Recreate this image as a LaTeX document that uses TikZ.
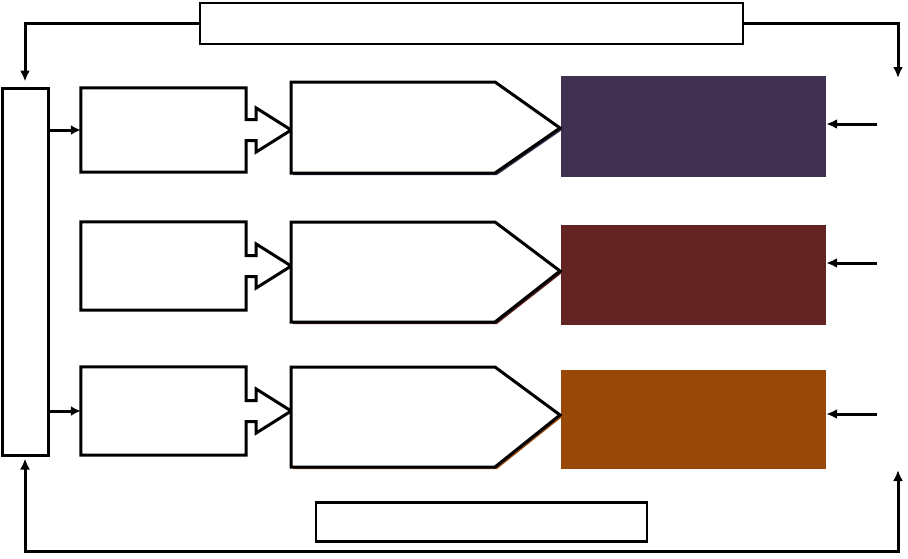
\documentclass[tikz,border=0pt]{standalone}
\usepackage{tikz}
\usetikzlibrary{shapes,arrows.meta,calc}

\definecolor{planpurple}{HTML}{403151}
\definecolor{planred}{HTML}{632523}
\definecolor{planbrown}{HTML}{984807}

\begin{document}
\begin{tikzpicture}[x=1pt,y=-1pt,
    thinbox/.style={draw, line width=2pt, inner sep=0pt},
    thickbox/.style={draw, line width=3pt, inner sep=0pt},
    openbox/.style={inner sep=0pt, minimum width=165pt},
    colorbox/.style={fill=#1, inner sep=0pt, minimum width=265pt},
    outline/.style={line width=3pt, line join=miter},
    fb/.style={line width=3pt, -{Latex[length=11pt,width=10pt]}},
    link/.style={line width=3pt, -{Latex[length=10pt,width=10pt]}}]
    \useasboundingbox (0,0) rectangle (908,558);

    % Draw the boxes
    \node [thinbox, minimum width=543pt, minimum height=41pt] (ctrl) at (471.5,23.5) {};
    \node [thickbox, minimum width=46pt, minimum height=367pt] (lbox) at (25,271.5) {};
    \node [thinbox, line width=2.5pt, minimum width=331pt, minimum height=39pt] (base) at (481.5,522) {};
    \node [openbox, minimum height=84pt] (s1) at (163.5,130) {};
    \node [openbox, minimum height=88pt] (s2) at (163.5,266) {};
    \node [openbox, minimum height=88pt] (s3) at (163.5,411) {};
    \node [colorbox=planpurple, minimum height=101pt] (c1) at (693.5,126.5) {};
    \node [colorbox=planred, minimum height=100pt] (c2) at (693.5,275) {};
    \node [colorbox=planbrown, minimum height=99pt] (c3) at (693.5,419.5) {};

    % Draw the boxes with arrow heads
    \draw [outline] ($(s1.east)+(0,-10.5)$) |- (s1.north west) |- (s1.south east)
          -- ($(s1.east)+(0,10.5)$) -- ++(10,0) -- ++(0,11.5) -- ($(s1.east)+(45,0)$)
          -- ($(s1.east)+(10,-22)$) -- ++(0,11.5) -- cycle;
    \draw [outline] ($(s2.east)+(0,-10.5)$) |- (s2.north west) |- (s2.south east)
          -- ($(s2.east)+(0,10.5)$) -- ++(10,0) -- ++(0,11.5) -- ($(s2.east)+(45,0)$)
          -- ($(s2.east)+(10,-22)$) -- ++(0,11.5) -- cycle;
    \draw [outline] ($(s3.east)+(0,-10.5)$) |- (s3.north west) |- (s3.south east)
          -- ($(s3.east)+(0,10.5)$) -- ++(10,0) -- ++(0,11.5) -- ($(s3.east)+(45,0)$)
          -- ($(s3.east)+(10,-22)$) -- ++(0,11.5) -- cycle;

    % Draw the pentagons and their shadows
    \fill [planpurple, shift={(2,2)}] (291,82) -- (495,82) -- (560,128) -- (495,173) -- (291,173) -- cycle;
    \draw [outline, fill=white] (291,82) -- (495,82) -- (560,128) -- (495,173) -- (291,173) -- cycle;
    \fill [planred, shift={(2,2)}] (291,222) -- (495,222) -- (560,271) -- (495,322) -- (291,322) -- cycle;
    \draw [outline, fill=white] (291,222) -- (495,222) -- (560,271) -- (495,322) -- (291,322) -- cycle;
    \fill [planbrown, shift={(2,2)}] (291,367) -- (495,367) -- (560,415) -- (495,467) -- (291,467) -- cycle;
    \draw [outline, fill=white] (291,367) -- (495,367) -- (560,415) -- (495,467) -- (291,467) -- cycle;

    % Draw the connectors
    \draw [link] (lbox.east |- s1) -- (s1.west);
    \draw [link] (lbox.east |- s3) -- (s3.west);
    \coordinate (in1) at (877,124);
    \coordinate (in2) at (877,263);
    \coordinate (in3) at (877,414);
    \draw [fb] (in1) -- (in1 -| c1.east);
    \draw [fb] (in2) -- (in2 -| c2.east);
    \draw [fb] (in3) -- (in3 -| c3.east);

    % Draw the feedback loops
    \coordinate (rtop) at (898,78);
    \coordinate (rbot) at (898,470);
    \draw [fb, shorten >=5pt] (ctrl.west) -| (lbox.north);
    \draw [fb] (ctrl.east) -| (rtop);
    \draw [fb, {Latex[length=11pt,width=10pt]}-{Latex[length=11pt,width=10pt]}, shorten <=2pt]
          (lbox.south) -- ++(0,95) -| (rbot);

\end{tikzpicture}
\end{document}
